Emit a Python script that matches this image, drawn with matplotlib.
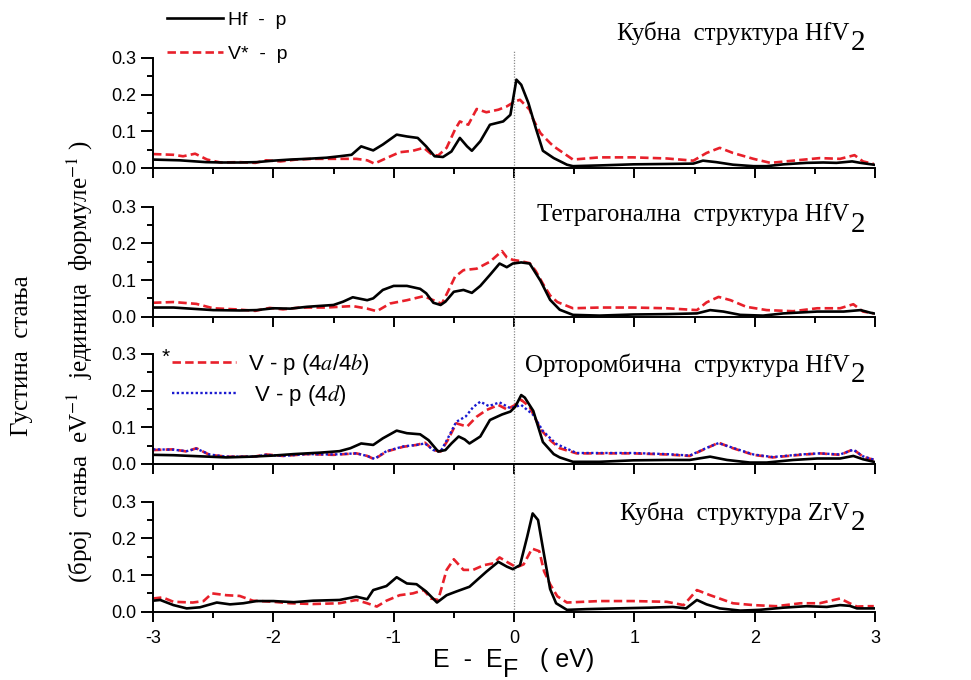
import matplotlib
matplotlib.use("Agg")
import matplotlib.pyplot as plt
from matplotlib.ticker import MultipleLocator, FormatStrFormatter

plt.rcParams["font.family"] = ["Liberation Sans", "DejaVu Sans"]
plt.rcParams["axes.unicode_minus"] = False
SERIF = ["Liberation Serif", "DejaVu Serif"]

# ---- panel 1: cubic HfV2 ----
hf_cub_x = [-3, -2.78, -2.56, -2.42, -2.28, -2.14, -2.0, -1.86, -1.72, -1.56,
            -1.45, -1.35, -1.27, -1.17, -1.09, -0.975, -0.89, -0.80, -0.73, -0.66,
            -0.59, -0.52, -0.45, -0.39, -0.35, -0.28, -0.20, -0.09, -0.03, 0.02,
            0.06, 0.12, 0.18, 0.24, 0.33, 0.44, 0.49, 0.71, 0.99, 1.27,
            1.49, 1.57, 1.68, 1.82, 1.99, 2.10, 2.24, 2.43, 2.57, 2.68,
            2.81, 2.88, 2.99]
hf_cub_y = [0.023, 0.021, 0.016, 0.015, 0.015, 0.016, 0.020, 0.023, 0.025, 0.028,
            0.032, 0.036, 0.059, 0.048, 0.064, 0.091, 0.086, 0.082, 0.059, 0.032,
            0.030, 0.045, 0.082, 0.059, 0.047, 0.073, 0.118, 0.127, 0.145, 0.241,
            0.227, 0.177, 0.110, 0.047, 0.027, 0.009, 0.005, 0.007, 0.010, 0.011,
            0.012, 0.020, 0.016, 0.009, 0.005, 0.005, 0.010, 0.014, 0.015, 0.014,
            0.018, 0.014, 0.009]
v_cub_x = [-3, -2.83, -2.75, -2.65, -2.55, -2.44, -2.28, -2.15, -2.06, -1.94,
           -1.81, -1.67, -1.50, -1.31, -1.22, -1.16, -1.06, -0.95, -0.84, -0.75,
           -0.68, -0.63, -0.56, -0.49, -0.45, -0.38, -0.31, -0.23, -0.13, -0.06,
           0.01, 0.05, 0.13, 0.16, 0.22, 0.30, 0.33, 0.49, 0.71, 0.99,
           1.27, 1.49, 1.60, 1.71, 1.82, 1.99, 2.13, 2.32, 2.54, 2.71,
           2.83, 2.90, 2.99]
v_cub_y = [0.038, 0.036, 0.032, 0.039, 0.023, 0.015, 0.016, 0.014, 0.021, 0.018,
           0.023, 0.025, 0.025, 0.025, 0.021, 0.012, 0.027, 0.043, 0.047, 0.055,
           0.036, 0.034, 0.055, 0.105, 0.127, 0.118, 0.161, 0.152, 0.159, 0.168,
           0.182, 0.186, 0.159, 0.132, 0.095, 0.068, 0.059, 0.023, 0.029, 0.029,
           0.026, 0.020, 0.041, 0.055, 0.041, 0.025, 0.014, 0.020, 0.027, 0.025,
           0.035, 0.018, 0.011]

# ---- panel 2: tetragonal HfV2 ----
hf_tet_x = [-3, -2.83, -2.69, -2.5, -2.28, -2.14, -2.0, -1.86, -1.72, -1.50,
            -1.42, -1.34, -1.22, -1.17, -1.09, -1.0, -0.89, -0.78, -0.73, -0.67,
            -0.61, -0.57, -0.50, -0.42, -0.35, -0.28, -0.20, -0.12, -0.06, -0.01,
            0.06, 0.13, 0.22, 0.30, 0.38, 0.49, 0.71, 0.99, 1.27, 1.52,
            1.63, 1.74, 1.88, 2.07, 2.24, 2.52, 2.74, 2.88, 2.96, 2.99]
hf_tet_y = [0.025, 0.025, 0.022, 0.018, 0.017, 0.018, 0.023, 0.022, 0.027, 0.032,
            0.041, 0.053, 0.045, 0.050, 0.073, 0.084, 0.084, 0.076, 0.064, 0.038,
            0.032, 0.041, 0.068, 0.073, 0.065, 0.084, 0.114, 0.145, 0.135, 0.145,
            0.148, 0.145, 0.098, 0.046, 0.019, 0.005, 0.003, 0.006, 0.007, 0.009,
            0.018, 0.014, 0.005, 0.003, 0.009, 0.014, 0.014, 0.018, 0.011, 0.009]
v_tet_x = [-3, -2.83, -2.64, -2.5, -2.31, -2.15, -2.03, -1.92, -1.78, -1.56,
           -1.34, -1.22, -1.14, -1.03, -0.89, -0.75, -0.67, -0.60, -0.55, -0.49,
           -0.42, -0.31, -0.20, -0.10, -0.06, -0.01, 0.05, 0.13, 0.18, 0.24,
           0.30, 0.36, 0.49, 0.71, 0.99, 1.27, 1.52, 1.60, 1.70, 1.80,
           1.93, 2.10, 2.32, 2.52, 2.71, 2.82, 2.90, 2.99]
v_tet_y = [0.038, 0.040, 0.035, 0.023, 0.020, 0.016, 0.024, 0.020, 0.025, 0.025,
           0.029, 0.022, 0.015, 0.036, 0.045, 0.056, 0.045, 0.035, 0.068, 0.109,
           0.127, 0.131, 0.150, 0.179, 0.162, 0.155, 0.152, 0.146, 0.125, 0.090,
           0.058, 0.040, 0.023, 0.025, 0.025, 0.023, 0.018, 0.039, 0.054, 0.045,
           0.027, 0.018, 0.015, 0.023, 0.023, 0.034, 0.014, 0.009]

# ---- panel 3: orthorhombic HfV2 ----
hf_ort_x = [-3, -2.83, -2.61, -2.39, -2.19, -2.0, -1.83, -1.61, -1.45, -1.36,
            -1.27, -1.17, -1.09, -0.975, -0.89, -0.78, -0.71, -0.63, -0.57, -0.52,
            -0.46, -0.41, -0.37, -0.28, -0.20, -0.10, -0.03, 0.01, 0.06, 0.09,
            0.16, 0.24, 0.33, 0.38, 0.49, 0.71, 0.99, 1.27, 1.46, 1.63,
            1.77, 1.96, 2.10, 2.32, 2.52, 2.71, 2.82, 2.90, 2.99]
hf_ort_y = [0.025, 0.024, 0.021, 0.018, 0.020, 0.023, 0.027, 0.031, 0.035, 0.043,
            0.056, 0.052, 0.070, 0.091, 0.084, 0.081, 0.065, 0.034, 0.038, 0.056,
            0.075, 0.067, 0.056, 0.075, 0.120, 0.135, 0.143, 0.156, 0.188, 0.181,
            0.145, 0.060, 0.027, 0.018, 0.006, 0.006, 0.010, 0.011, 0.011, 0.020,
            0.011, 0.004, 0.004, 0.011, 0.015, 0.015, 0.022, 0.013, 0.006]
vab_ort_x = [-3, -2.83, -2.72, -2.64, -2.53, -2.39, -2.16, -2.06, -1.92, -1.72,
             -1.50, -1.31, -1.22, -1.16, -1.06, -0.92, -0.81, -0.74, -0.67, -0.61,
             -0.55, -0.48, -0.39, -0.31, -0.23, -0.13, -0.06, 0.01, 0.06, 0.13,
             0.22, 0.30, 0.38, 0.52, 0.71, 0.99, 1.27, 1.46, 1.60, 1.70,
             1.82, 1.99, 2.15, 2.38, 2.54, 2.71, 2.82, 2.90, 2.99]
vab_ort_y = [0.038, 0.040, 0.034, 0.043, 0.025, 0.020, 0.020, 0.026, 0.022, 0.027,
             0.025, 0.029, 0.022, 0.013, 0.034, 0.047, 0.052, 0.058, 0.038, 0.034,
             0.065, 0.111, 0.102, 0.129, 0.147, 0.161, 0.149, 0.161, 0.175, 0.156,
             0.095, 0.065, 0.043, 0.029, 0.029, 0.029, 0.026, 0.022, 0.043, 0.058,
             0.043, 0.025, 0.018, 0.025, 0.029, 0.025, 0.040, 0.020, 0.011]
vd_ort_x = [-3, -2.83, -2.72, -2.64, -2.53, -2.39, -2.16, -2.06, -1.92, -1.72,
            -1.50, -1.31, -1.22, -1.16, -1.06, -0.92, -0.81, -0.74, -0.67, -0.61,
            -0.55, -0.48, -0.40, -0.34, -0.28, -0.21, -0.12, -0.03, 0.06, 0.16,
            0.24, 0.35, 0.52, 0.71, 0.99, 1.27, 1.46, 1.60, 1.70, 1.82,
            1.99, 2.15, 2.38, 2.54, 2.71, 2.82, 2.90, 2.99]
vd_ort_y = [0.040, 0.039, 0.035, 0.042, 0.026, 0.020, 0.020, 0.025, 0.022, 0.027,
            0.026, 0.029, 0.022, 0.014, 0.035, 0.048, 0.052, 0.056, 0.038, 0.034,
            0.070, 0.115, 0.130, 0.155, 0.170, 0.158, 0.168, 0.152, 0.161, 0.134,
            0.090, 0.055, 0.030, 0.030, 0.030, 0.027, 0.023, 0.044, 0.057, 0.044,
            0.026, 0.019, 0.026, 0.029, 0.026, 0.039, 0.021, 0.012]

# ---- panel 4: cubic ZrV2 ----
zr_cub_x = [-3, -2.94, -2.83, -2.72, -2.61, -2.47, -2.36, -2.25, -2.14, -2.0,
            -1.83, -1.67, -1.45, -1.31, -1.22, -1.17, -1.06, -0.975, -0.89, -0.81,
            -0.73, -0.64, -0.56, -0.48, -0.37, -0.23, -0.13, -0.06, -0.01, 0.05,
            0.11, 0.155, 0.20, 0.25, 0.30, 0.35, 0.44, 0.60, 0.85, 1.13,
            1.32, 1.43, 1.52, 1.60, 1.71, 1.88, 2.04, 2.24, 2.43, 2.60,
            2.71, 2.79, 2.85, 2.99]
zr_cub_y = [0.030, 0.032, 0.018, 0.009, 0.012, 0.025, 0.020, 0.023, 0.029, 0.029,
            0.026, 0.030, 0.032, 0.041, 0.034, 0.059, 0.070, 0.094, 0.077, 0.075,
            0.055, 0.025, 0.045, 0.055, 0.068, 0.109, 0.136, 0.123, 0.116, 0.127,
            0.205, 0.268, 0.250, 0.155, 0.062, 0.023, 0.005, 0.007, 0.009, 0.011,
            0.013, 0.009, 0.032, 0.020, 0.009, 0.003, 0.005, 0.011, 0.015, 0.013,
            0.018, 0.016, 0.009, 0.009]
vz_cub_x = [-3, -2.92, -2.83, -2.67, -2.58, -2.51, -2.39, -2.28, -2.17, -2.0,
            -1.86, -1.67, -1.45, -1.31, -1.22, -1.14, -1.06, -0.95, -0.84, -0.75,
            -0.69, -0.63, -0.56, -0.50, -0.42, -0.34, -0.25, -0.17, -0.12, -0.06,
            0.02, 0.08, 0.15, 0.21, 0.25, 0.30, 0.36, 0.44, 0.71, 0.99,
            1.27, 1.41, 1.52, 1.63, 1.82, 1.99, 2.18, 2.38, 2.54, 2.71,
            2.79, 2.85, 2.93, 2.99]
vz_cub_y = [0.036, 0.039, 0.027, 0.025, 0.029, 0.050, 0.045, 0.043, 0.030, 0.027,
            0.023, 0.021, 0.023, 0.032, 0.023, 0.014, 0.030, 0.045, 0.050, 0.059,
            0.036, 0.032, 0.114, 0.143, 0.114, 0.114, 0.127, 0.132, 0.148, 0.136,
            0.121, 0.129, 0.172, 0.165, 0.110, 0.075, 0.042, 0.025, 0.029, 0.029,
            0.027, 0.018, 0.059, 0.045, 0.023, 0.018, 0.015, 0.023, 0.023, 0.036,
            0.023, 0.014, 0.015, 0.015]

titles = [("Кубна  структура HfV", "2"),
          ("Тетрагонална  структура HfV", "2"),
          ("Орторомбична  структура HfV", "2"),
          ("Кубна  структура ZrV", "2")]
title_y = [1.12, 0.82, 0.795, 0.79]

RED = "#e8202a"
BLUE = "#1a1ad0"
RED_DASH = (3.2, 1.6)
BLUE_DOT = (1.0, 1.0)

W, H = 971, 680
fig = plt.figure(figsize=(W / 100, H / 100), dpi=100)

left = 153 / W
width = 722 / W
height = 110 / H
bottoms_px = [168, 316.7, 464, 611.7]
axes = [fig.add_axes([left, 1 - b / H, width, height]) for b in bottoms_px]

for i, ax in enumerate(axes):
    ax.set_xlim(-3, 3)
    ax.set_ylim(0, 0.3)
    for s in ("top", "right"):
        ax.spines[s].set_visible(False)
    for s in ("left", "bottom"):
        ax.spines[s].set_linewidth(1.4)
    ax.xaxis.set_major_locator(MultipleLocator(1))
    ax.xaxis.set_minor_locator(MultipleLocator(0.5))
    ax.yaxis.set_major_locator(MultipleLocator(0.1))
    ax.yaxis.set_minor_locator(MultipleLocator(0.05))
    ax.yaxis.set_major_formatter(FormatStrFormatter("%.1f"))
    ax.tick_params(which="major", direction="out", length=7.5, width=1.4, labelsize=13)
    ax.tick_params(which="minor", direction="out", length=4.5, width=1.4)
    ax.tick_params(axis="y", which="major", length=9, pad=3)
    ax.tick_params(axis="x", which="major", pad=6)
    if i < 3:
        ax.tick_params(axis="x", labelbottom=False)
    top = 1 + 8 / 110 if i == 0 else 1 + 37 / 110
    ax.axvline(0, ymin=0, ymax=top, color="#8a8a8a", lw=0.9, ls=(0, (1, 1.2)),
               clip_on=False, zorder=1)

    t = ax.text(2.79, title_y[i], titles[i][0], transform=ax.get_xaxis_transform(),
                ha="right", va="bottom", fontsize=18, family=SERIF)
    ax.annotate(titles[i][1], xy=(1, 0), xycoords=t, xytext=(0.5, -8),
                textcoords="offset points", ha="left", va="bottom",
                fontsize=21, family=SERIF)

ax1, ax2, ax3, ax4 = axes

l1, = ax1.plot(hf_cub_x, hf_cub_y, color="black", lw=1.9, zorder=3)
l2, = ax1.plot(v_cub_x, v_cub_y, color=RED, lw=1.9, dashes=RED_DASH, zorder=2)
ax1.legend([l1, l2], ["Hf  -  p", "V*  -  p"], loc="upper left",
           bbox_to_anchor=(167 / W, 1 - 11 / H), bbox_transform=fig.transFigure,
           frameon=False, borderpad=0, borderaxespad=0, handlelength=2.9,
           handletextpad=0.25, labelspacing=0.85, fontsize=14)

ax2.plot(hf_tet_x, hf_tet_y, color="black", lw=1.9, zorder=3)
ax2.plot(v_tet_x, v_tet_y, color=RED, lw=1.9, dashes=RED_DASH, zorder=2)

ax3.plot(hf_ort_x, hf_ort_y, color="black", lw=1.9, zorder=3)
l3, = ax3.plot(vab_ort_x, vab_ort_y, color=RED, lw=1.9, dashes=RED_DASH, zorder=2)
l4, = ax3.plot(vd_ort_x, vd_ort_y, color=BLUE, lw=1.7, dashes=BLUE_DOT, zorder=2)
ax3.legend([l3, l4], [r"V - p (4$\mathit{a}$/4$\mathit{b}$)", r" V - p (4$\mathit{d}$)"],
           loc="upper left", bbox_to_anchor=(172 / W, 1 - 352 / H),
           bbox_transform=fig.transFigure, frameon=False, borderpad=0,
           borderaxespad=0, handlelength=2.9, handletextpad=0.5,
           labelspacing=0.28, prop={"size": 16, "math_fontfamily": "stix"})
fig.text(162 / W, 1 - 357 / H, "*", fontsize=15, ha="left", va="center")

ax4.plot(zr_cub_x, zr_cub_y, color="black", lw=1.9, zorder=3)
ax4.plot(vz_cub_x, vz_cub_y, color=RED, lw=1.9, dashes=RED_DASH, zorder=2)

# x label: E - E_F ( eV)
xl = fig.text(433 / W, 1 - 672 / H, "E  -  E", fontsize=18, ha="left", va="bottom")
xf = ax4.annotate("F", xy=(1, 0), xycoords=xl, xytext=(0.5, -7),
                  textcoords="offset points", ha="left", va="bottom", fontsize=18)
ax4.annotate("   ( eV)", xy=(1, 0), xycoords=xf, xytext=(0, 7),
             textcoords="offset points", ha="left", va="bottom", fontsize=18)

# y label, two rotated lines
fig.text(22 / W, 1 - 356 / H, "Густина  стања", rotation=90, ha="center",
         va="center", fontsize=18, family=SERIF)
fig.text(80 / W, 1 - 362 / H,
         r"(број  стања  eV$^{-1}$  јединица  формуле$^{-1}$ )",
         rotation=90, ha="center", va="center", fontsize=18, family=SERIF,
         math_fontfamily="stix")

fig.savefig("out.png", dpi=100)
